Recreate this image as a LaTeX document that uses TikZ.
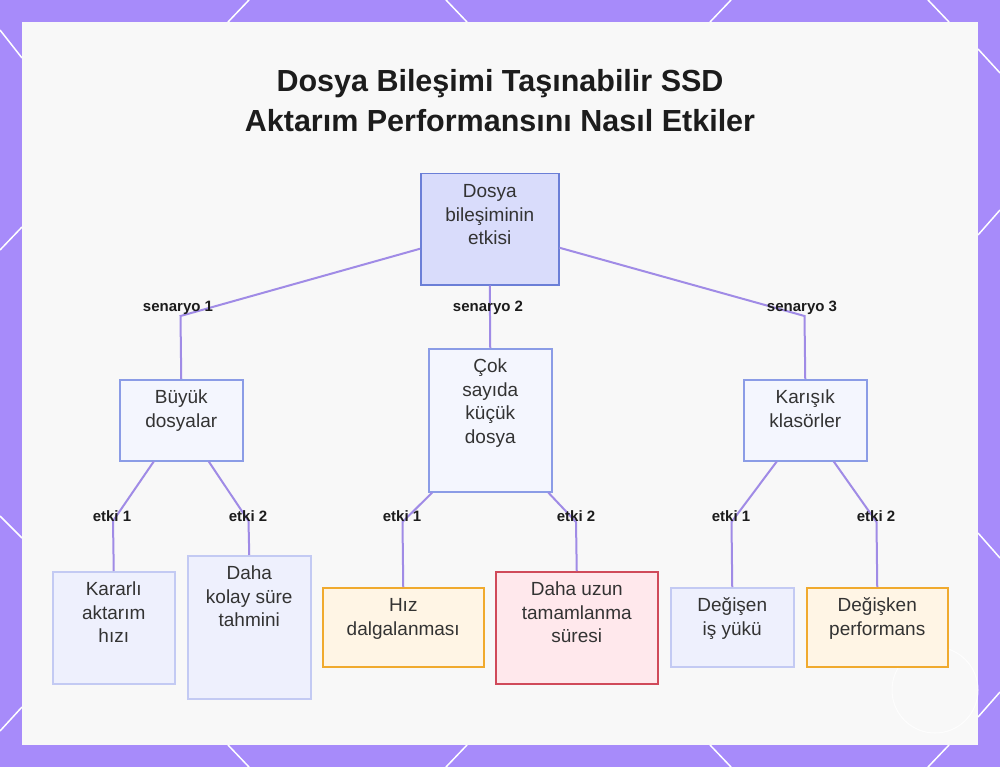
\documentclass[tikz,border=0pt]{standalone}
\usepackage{fontspec}
\setmainfont{Liberation Sans}
\usetikzlibrary{calc}
\definecolor{framec}{HTML}{A78BFA}
\definecolor{innerc}{HTML}{F8F8F8}
\definecolor{edgec}{HTML}{A08BE6}
\definecolor{txtc}{HTML}{333333}
\definecolor{titlec}{HTML}{1C1C1C}
\definecolor{rootfill}{HTML}{D9DCFB}
\definecolor{rootdraw}{HTML}{6B7FD7}
\definecolor{midfill}{HTML}{F4F6FE}
\definecolor{middraw}{HTML}{8B9CE6}
\definecolor{lightfill}{HTML}{EEF0FD}
\definecolor{lightdraw}{HTML}{C3CAF3}
\definecolor{orfill}{HTML}{FFF5E5}
\definecolor{ordraw}{HTML}{F0AA2E}
\definecolor{redfill}{HTML}{FFE8EC}
\definecolor{reddraw}{HTML}{D04A5A}
\newcommand{\bt}[3]{\parbox[c][#2][t]{#1}{\centering\fontsize{19}{23.5}\selectfont\vspace*{7.5pt}\strut #3\par}}
\tikzset{
  box/.style={draw, line width=1.5pt, inner sep=0pt, anchor=north west, text=txtc},
  rootbox/.style={box, fill=rootfill, draw=rootdraw},
  midbox/.style={box, fill=midfill, draw=middraw},
  lightbox/.style={box, fill=lightfill, draw=lightdraw},
  orbox/.style={box, fill=orfill, draw=ordraw},
  redbox/.style={box, fill=redfill, draw=reddraw},
  edge/.style={draw=edgec, line width=2pt},
  elabel/.style={font=\fontsize{15}{18}\selectfont\bfseries, text=titlec, inner sep=0pt},
  deco/.style={draw=white, line width=1.5pt}
}
\begin{document}
\begin{tikzpicture}[x=1pt,y=-1pt]
\useasboundingbox (0,0) rectangle (1000,767);
% frame
\fill[framec] (0,0) rectangle (1000,767);
\draw[deco] (249,0) -- (228,22);
\draw[deco] (446,0) -- (467,22);
\draw[deco] (731,0) -- (710,22);
\draw[deco] (928,0) -- (949,22);
\draw[deco] (228,745) -- (249,767);
\draw[deco] (467,745) -- (446,767);
\draw[deco] (710,745) -- (731,767);
\draw[deco] (949,745) -- (928,767);
\draw[deco] (0,30) -- (22,58);
\draw[deco] (22,227) -- (0,250);
\draw[deco] (0,516) -- (22,538);
\draw[deco] (22,707) -- (0,731);
\draw[deco] (978,49) -- (1000,73);
\draw[deco] (978,235) -- (1000,210);
\draw[deco] (978,533) -- (1000,558);
\draw[deco] (978,717) -- (1000,692);
\fill[innerc] (22,22) rectangle (978,745);
\draw[white, line width=1pt, opacity=0.8] (935,690) circle (43);
% title
\node[font=\fontsize{30.5}{40}\selectfont\bfseries, text=titlec, align=center] (title) at (500,101) {Dosya Bileşimi Taşınabilir SSD\\Aktarım Performansını Nasıl Etkiler};
% nodes
\node[rootbox] (root) at (420,173) {\bt{138pt}{111pt}{Dosya\\bileşiminin\\etkisi}};
\node[midbox] (big) at (119,379) {\bt{123pt}{81pt}{Büyük\\dosyalar}};
\node[midbox] (cok) at (428,348) {\bt{123pt}{143pt}{Çok\\sayıda\\küçük\\dosya}};
\node[midbox] (mix) at (743,379) {\bt{123pt}{81pt}{Karışık\\klasörler}};
\node[lightbox] (kararli) at (52,571) {\bt{122pt}{112pt}{Kararlı\\aktarım\\hızı}};
\node[lightbox] (kolay) at (187,555) {\bt{123pt}{143pt}{Daha\\kolay süre\\tahmini}};
\node[orbox] (hiz) at (322,587) {\bt{161pt}{79pt}{Hız\\dalgalanması}};
\node[redbox] (uzun) at (495,571) {\bt{162pt}{112pt}{Daha uzun\\tamamlanma\\süresi}};
\node[lightbox] (degisen) at (670,587) {\bt{123pt}{79pt}{Değişen\\iş yükü}};
\node[orbox] (degisken) at (806,587) {\bt{141pt}{79pt}{Değişken\\performans}};
% bend coordinates
\coordinate (b1) at (180.5,316);
\coordinate (b3) at (804.5,316);
\coordinate (c1) at (113,521);
\coordinate (c2) at (248.5,521);
\coordinate (c3) at (402.5,522);
\coordinate (c4) at (576,522);
\coordinate (c5) at (731.5,522);
\coordinate (c6) at (876.5,522);
% edges
\draw[edge] ([yshift=-19.5pt]root.west) -- (b1) -- (big.north);
\draw[edge] (root.south) -- (cok.north);
\draw[edge] ([yshift=-18.5pt]root.east) -- (b3) -- (mix.north);
\draw[edge] ([xshift=-27.5pt]big.south) -- (c1) -- (kararli.north);
\draw[edge] ([xshift=27.5pt]big.south) -- (c2) -- (kolay.north);
\draw[edge] ([xshift=-58pt]cok.south) -- (c3) -- (hiz.north);
\draw[edge] ([xshift=58pt]cok.south) -- (c4) -- (uzun.north);
\draw[edge] ([xshift=-28.5pt]mix.south) -- (c5) -- (degisen.north);
\draw[edge] ([xshift=28.5pt]mix.south) -- (c6) -- (degisken.north);
% labels
\node[elabel] (l1) at (178,308) {senaryo 1};
\node[elabel] (l2) at (488,308) {senaryo 2};
\node[elabel] (l3) at (802,308) {senaryo 3};
\node[elabel] (l4) at (112,516) {etki 1};
\node[elabel] (l5) at (248,516) {etki 2};
\node[elabel] (l6) at (402,516) {etki 1};
\node[elabel] (l7) at (576,516) {etki 2};
\node[elabel] (l8) at (731,516) {etki 1};
\node[elabel] (l9) at (876,516) {etki 2};
\end{tikzpicture}
\end{document}
